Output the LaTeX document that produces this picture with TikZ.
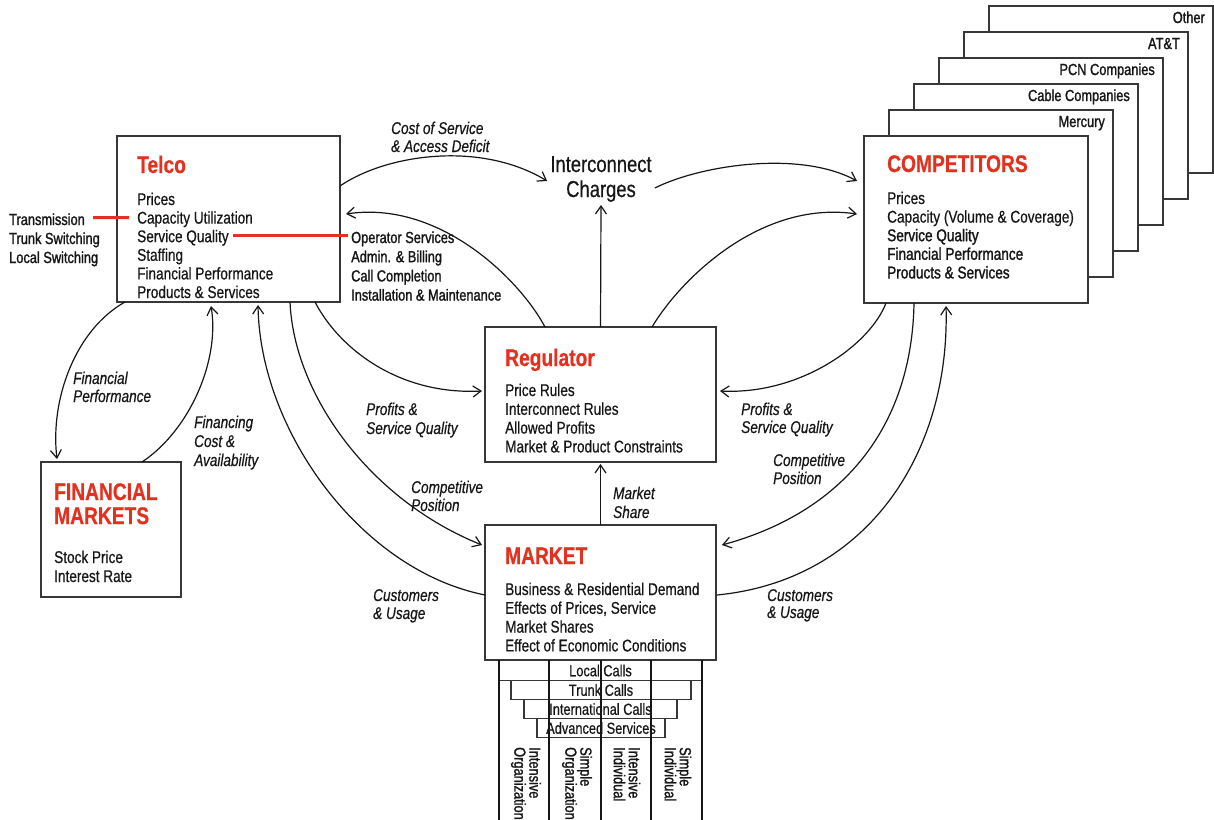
\documentclass[tikz,border=0pt]{standalone}
\usepackage{fontspec}
\setmainfont{Liberation Sans}[FakeStretch=0.8,FakeBold=0.5]
\newfontfamily\heavyfont{Liberation Sans}[FakeStretch=0.8,FakeBold=1.4]
\usetikzlibrary{arrows.meta}
\definecolor{titlered}{RGB}{228,48,30}
\definecolor{ink}{RGB}{22,22,22}
\definecolor{frame}{RGB}{55,55,55}
\begin{document}
\begin{tikzpicture}[x=1pt,y=-1pt,
  box/.style={draw=frame,line width=1.3pt,fill=white,anchor=north west,inner sep=0pt,outer sep=0pt},
  ttl/.style={anchor=base west,inner sep=0pt,text=titlered,font=\fontsize{24}{26}\selectfont\bfseries},
  item/.style={anchor=base west,inner sep=0pt,text=ink,font=\fontsize{17}{19}\selectfont},
  heavy/.style={anchor=base west,inner sep=0pt,text=ink,font=\fontsize{17}{19}\selectfont\heavyfont},
  side/.style={anchor=base west,inner sep=0pt,text=ink,font=\fontsize{16}{19}\selectfont\heavyfont},
  lbl/.style={anchor=base west,inner sep=0pt,text=ink,font=\fontsize{17}{19}\selectfont\itshape},
  flow/.style={draw=ink,line width=1.2pt,-{Straight Barb[length=8pt,width=11pt,line width=1.2pt]}},
  redline/.style={draw=titlered,line width=3pt},
  tier/.style={draw=frame,line width=1.1pt,fill=white,anchor=north,inner sep=0pt,text=ink,font=\fontsize{16}{18}\selectfont},
  divider/.style={draw=ink,line width=2pt},
  vtext/.style={rotate=-90,anchor=west,align=left,inner sep=0pt,text=ink,font=\fontsize{16}{15}\selectfont\heavyfont},
]
\path[use as bounding box] (0,0) rectangle (1214,819);

% ---------- competitor stack (back to front) ----------
\foreach \nm/\lab [count=\k] in {other/Other,att/AT\&T,pcn/PCN Companies,cable/Cable Companies,mercury/Mercury}{
  \node[box,minimum width=224pt,minimum height=167pt] (\nm) at ({864+25*(6-\k)},{136-26*(6-\k)}) {};
  \node[side,anchor=base east] (\nm-t) at ([shift={(-8,17)}]\nm.north east) {\lab};
}
\node[box,minimum width=224pt,minimum height=167pt] (comp) at (864,136) {};
\node[ttl] (comp-title) at (887,172) {COMPETITORS};
\node[item] (comp-1) at (887,204) {Prices};
\node[item] (comp-2) at (887,222.6) {Capacity (Volume \& Coverage)};
\node[heavy] (comp-3) at (887,241.2) {Service Quality};
\node[heavy] (comp-4) at (887,259.8) {Financial Performance};
\node[heavy] (comp-5) at (887,278.4) {Products \& Services};

% ---------- Telco ----------
\node[box,minimum width=223pt,minimum height=166pt] (telco) at (117,136) {};
\node[ttl] (telco-title) at (137,173) {Telco};
\foreach \t [count=\i] in {Prices,Capacity Utilization,Service Quality,Staffing,Financial Performance,Products \& Services}
  \node[item] (telco-\i) at (137,{205+18.6*(\i-1)}) {\t};

% side lists
\foreach \t [count=\i] in {Transmission,Trunk Switching,Local Switching}
  \node[side] (trans-\i) at (9,{225+19*(\i-1)}) {\t};
\foreach \t [count=\i] in {Operator Services,Admin. \& Billing,Call Completion,Installation \& Maintenance}
  \node[side] (op-\i) at (351,{243+19.2*(\i-1)}) {\t};
\draw[redline] ([shift={(8,-7.3)}]trans-1.base east) -- ([shift={(-8,-5.9)}]telco-2.base west);
\draw[redline] ([shift={(4,-7.2)}]telco-3.base east) -- ([shift={(-3,-8)}]op-1.base west);

% ---------- Financial markets ----------
\node[box,minimum width=140pt,minimum height=135pt] (fin) at (41,462) {};
\node[ttl] (fin-title1) at (54,500) {FINANCIAL};
\node[ttl] (fin-title2) at (54,524) {MARKETS};
\node[item] (fin-1) at (54,563) {Stock Price};
\node[item] (fin-2) at (54,582) {Interest Rate};

% ---------- Regulator ----------
\node[box,minimum width=231pt,minimum height=135pt] (reg) at (485,327) {};
\node[ttl] (reg-title) at (505,366) {Regulator};
\foreach \t [count=\i] in {Price Rules,Interconnect Rules,Allowed Profits,Market \& Product Constraints}
  \node[item] (reg-\i) at (505,{396+18.8*(\i-1)}) {\t};

% ---------- Market ----------
\node[box,minimum width=231pt,minimum height=135pt] (market) at (485,525) {};
\node[ttl] (market-title) at (505,564) {MARKET};
\foreach \t [count=\i] in {Business \& Residential Demand,{Effects of Prices, Service},Market Shares,Effect of Economic Conditions}
  \node[item] (market-\i) at (505,{595+18.8*(\i-1)}) {\t};

% service tiers under the market
\node[tier,minimum width=203pt,minimum height=20pt] (local) at (600.5,660) {Local Calls};
\node[tier,minimum width=180pt,minimum height=19pt] (trunk) at (601,680) {Trunk Calls};
\node[tier,minimum width=153pt,minimum height=19pt] (intl) at (600.5,699) {International Calls};
\node[tier,minimum width=128pt,minimum height=19pt] (adv) at (601,718) {Advanced Services};
\foreach \dx in {-101.5,-51.5,0.5,50.5,101.5}
  \draw[divider] ([xshift=\dx pt]market.south) -- ++(0,165);
\node[vtext] (seg-1) at (526,747) {Intensive\\Organization};
\node[vtext] (seg-2) at (577,747) {Simple\\Organization};
\node[vtext] (seg-3) at (627,747) {Intensive\\Individual};
\node[vtext] (seg-4) at (678,747) {Simple\\Individual};

% ---------- Interconnect charges ----------
\node[anchor=base,inner sep=0pt,text=ink,font=\fontsize{23}{25}\selectfont] (ic1) at (601,172) {Interconnect};
\node[anchor=base,inner sep=0pt,text=ink,font=\fontsize{23}{25}\selectfont] (ic2) at (601,197) {Charges};

% ---------- flows ----------
\draw[flow] ([shift={(0,50)}]telco.north east) .. controls +(45,-31) and +(-68,-41) .. ([shift={(-3,9)}]ic1.base west);
\draw[flow] ([shift={(3,16)}]ic1.base east) .. controls +(46,-23) and +(-57,-31) .. ([shift={(-7,45)}]comp.north west);
\draw[flow] ([shift={(60,0)}]reg.north west) .. controls +(-25,-47) and +(94,-14) .. ([shift={(6,-5)}]telco.east);
\draw[flow] ([shift={(-64,0)}]reg.north east) .. controls +(28,-47) and +(-97,-14) .. ([shift={(-7,-5.5)}]comp.west);
\draw[flow] (reg.north) -- ([shift={(0,3)}]ic2.south);

\draw[flow] ([shift={(-25,0)}]telco.south east) .. controls +(25,48) and +(-82,4) .. ([shift={(-3,-3.5)}]reg.west);
\draw[flow] ([shift={(-50,0)}]telco.south east) .. controls +(4,93) and +(-112,-45) .. ([shift={(-3,20)}]market.north west);
\draw[flow] ([shift={(0,2.5)}]market.west) .. controls +(-125,-25) and +(2,125) .. ([shift={(141,3)}]telco.south west);
\draw[flow] ([shift={(8,0)}]telco.south west) .. controls +(-50,28) and +(-7,-59) .. ([shift={(16,-3)}]fin.north west);
\draw[flow] ([shift={(101,0)}]fin.north west) .. controls +(48,-32) and +(9,54) .. ([shift={(94,4)}]telco.south west);
\draw[flow] (market.north) -- ([shift={(0,2)}]reg.south);

\draw[flow] ([shift={(22,0)}]comp.south west) .. controls +(-16,42) and +(80,4) .. ([shift={(4,-3.5)}]reg.east);
\draw[flow] ([shift={(50,0)}]comp.south west) .. controls +(-2,117) and +(128,-35) .. ([shift={(6,20)}]market.north east);
\draw[flow] ([shift={(1,2.5)}]market.east) .. controls +(153,-15) and +(4,144) .. ([shift={(82,3)}]comp.south west);

% ---------- flow labels ----------
\node[lbl] (l-cos1) at (391,134) {Cost of Service};
\node[lbl] (l-cos2) at (391,152) {\& Access Deficit};
\node[lbl] (l-fp1) at (73,384) {Financial};
\node[lbl] (l-fp2) at (73,402) {Performance};
\node[lbl] (l-fc1) at (194,428) {Financing};
\node[lbl] (l-fc2) at (194,447) {Cost \&};
\node[lbl] (l-fc3) at (194,466) {Availability};
\node[lbl] (l-ps1) at (366,415) {Profits \&};
\node[lbl] (l-ps2) at (366,434) {Service Quality};
\node[lbl] (l-cp1) at (411,493) {Competitive};
\node[lbl] (l-cp2) at (411,511) {Position};
\node[lbl] (l-cu1) at (373,601) {Customers};
\node[lbl] (l-cu2) at (373,619) {\& Usage};
\node[lbl] (l-ms1) at (613,499) {Market};
\node[lbl] (l-ms2) at (613,518) {Share};
\node[lbl] (r-ps1) at (741,415) {Profits \&};
\node[lbl] (r-ps2) at (741,433) {Service Quality};
\node[lbl] (r-cp1) at (773,466) {Competitive};
\node[lbl] (r-cp2) at (773,484) {Position};
\node[lbl] (r-cu1) at (767,601) {Customers};
\node[lbl] (r-cu2) at (767,618) {\& Usage};
\end{tikzpicture}
\end{document}
